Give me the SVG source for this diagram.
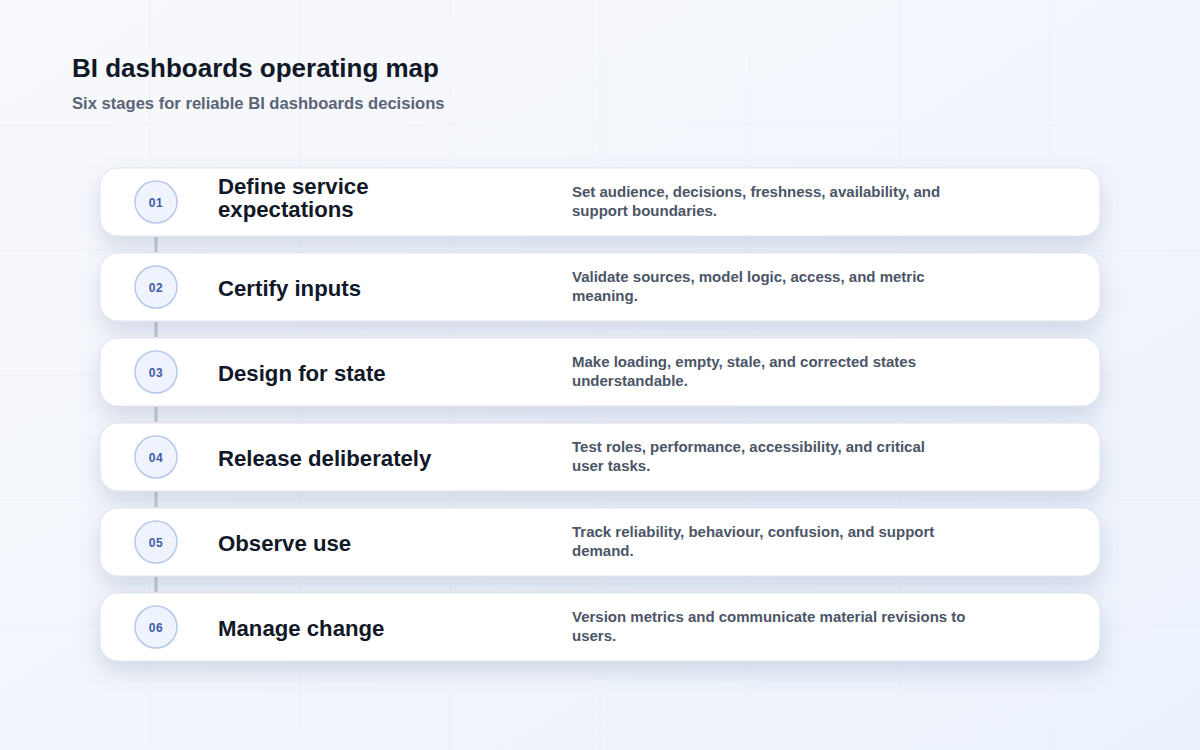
<svg xmlns="http://www.w3.org/2000/svg" width="1200" height="750" viewBox="0 0 1200 750">
<defs>
<linearGradient id="bg" x1="0" y1="0" x2="1" y2="1">
<stop offset="0" stop-color="#f8f9fc"/>
<stop offset="1" stop-color="#ecf2fc"/>
</linearGradient>
<filter id="sh" x="-10%" y="-40%" width="120%" height="200%">
<feDropShadow dx="0" dy="10" stdDeviation="11" flood-color="#5d6e99" flood-opacity="0.22"/>
</filter>
<style>
.grid{stroke:#e9edf4;stroke-width:1;fill:none;opacity:0.7}
.card{fill:#ffffff;stroke:#dde3ee;stroke-width:1;filter:url(#sh)}
.badge{fill:#eef3fd;stroke:#b7c9ea;stroke-width:1.5}
.num{font-family:"Liberation Sans",Arial,sans-serif;font-size:12px;font-weight:700;fill:#3d5ca8;text-anchor:middle;letter-spacing:0.5px}
.ttl{font-family:"Liberation Sans",Arial,sans-serif;font-size:22.2px;font-weight:700;fill:#111827}
.dsc{font-family:"Liberation Sans",Arial,sans-serif;font-size:15px;font-weight:700;fill:#4b5567}
.link{stroke:#c3c7cf;stroke-width:3}
</style>
</defs>
<rect width="1200" height="750" fill="url(#bg)"/>
<g class="grid">
<path d="M150 0V750M300 0V750M450 0V750M600 0V750M750 0V750M900 0V750M1050 0V750"/>
<path d="M0 125H1200M0 250H1200M0 375H1200M0 500H1200M0 625H1200"/>
</g>
<text x="72" y="77" font-family="'Liberation Sans',Arial,sans-serif" font-size="26" font-weight="700" fill="#111827">BI dashboards operating map</text>
<text x="72" y="109" font-family="'Liberation Sans',Arial,sans-serif" font-size="16.6" font-weight="700" fill="#5a6477">Six stages for reliable BI dashboards decisions</text>
<g id="connectors">
<line class="link" x1="156" y1="237" x2="156" y2="252"/>
<line class="link" x1="156" y1="322" x2="156" y2="337"/>
<line class="link" x1="156" y1="407" x2="156" y2="422"/>
<line class="link" x1="156" y1="492" x2="156" y2="507"/>
<line class="link" x1="156" y1="577" x2="156" y2="592"/>
</g>
<g id="stage1">
<rect class="card" x="100" y="168" width="1000" height="68" rx="18"/>
<circle class="badge" cx="156" cy="202" r="21"/>
<text class="num" x="156" y="206.5">01</text>
<text class="ttl" x="218" y="194">Define service</text>
<text class="ttl" x="218" y="217">expectations</text>
<text class="dsc" x="572" y="197">Set audience, decisions, freshness, availability, and</text>
<text class="dsc" x="572" y="216">support boundaries.</text>
</g>
<g id="stage2">
<rect class="card" x="100" y="253" width="1000" height="68" rx="18"/>
<circle class="badge" cx="156" cy="287" r="21"/>
<text class="num" x="156" y="291.5">02</text>
<text class="ttl" x="218" y="296">Certify inputs</text>
<text class="dsc" x="572" y="282">Validate sources, model logic, access, and metric</text>
<text class="dsc" x="572" y="301">meaning.</text>
</g>
<g id="stage3">
<rect class="card" x="100" y="338" width="1000" height="68" rx="18"/>
<circle class="badge" cx="156" cy="372" r="21"/>
<text class="num" x="156" y="376.5">03</text>
<text class="ttl" x="218" y="381">Design for state</text>
<text class="dsc" x="572" y="367">Make loading, empty, stale, and corrected states</text>
<text class="dsc" x="572" y="386">understandable.</text>
</g>
<g id="stage4">
<rect class="card" x="100" y="423" width="1000" height="68" rx="18"/>
<circle class="badge" cx="156" cy="457" r="21"/>
<text class="num" x="156" y="461.5">04</text>
<text class="ttl" x="218" y="466">Release deliberately</text>
<text class="dsc" x="572" y="452">Test roles, performance, accessibility, and critical</text>
<text class="dsc" x="572" y="471">user tasks.</text>
</g>
<g id="stage5">
<rect class="card" x="100" y="508" width="1000" height="68" rx="18"/>
<circle class="badge" cx="156" cy="542" r="21"/>
<text class="num" x="156" y="546.5">05</text>
<text class="ttl" x="218" y="551">Observe use</text>
<text class="dsc" x="572" y="537">Track reliability, behaviour, confusion, and support</text>
<text class="dsc" x="572" y="556">demand.</text>
</g>
<g id="stage6">
<rect class="card" x="100" y="593" width="1000" height="68" rx="18"/>
<circle class="badge" cx="156" cy="627" r="21"/>
<text class="num" x="156" y="631.5">06</text>
<text class="ttl" x="218" y="636">Manage change</text>
<text class="dsc" x="572" y="622">Version metrics and communicate material revisions to</text>
<text class="dsc" x="572" y="641">users.</text>
</g>
</svg>
